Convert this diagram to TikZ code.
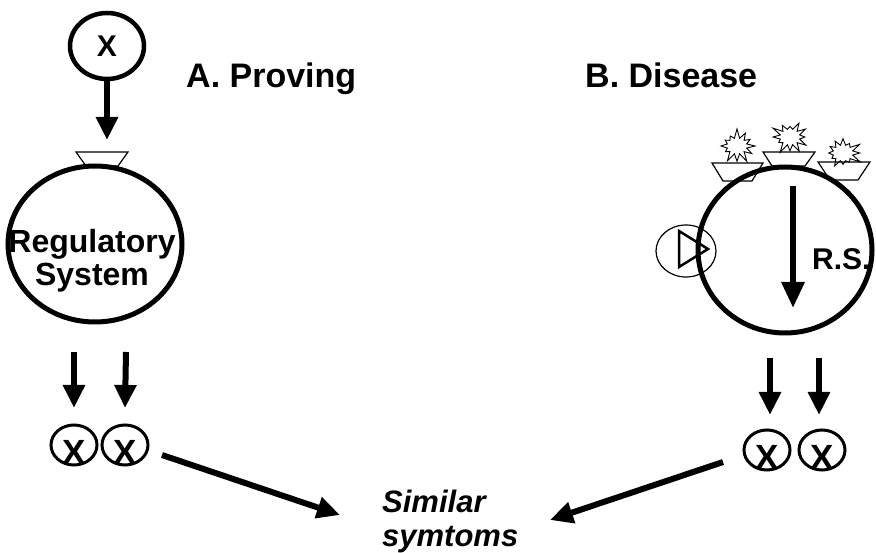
\documentclass[tikz,border=0pt]{standalone}
\usepackage{fontspec}
\setmainfont{Liberation Sans}
\usetikzlibrary{arrows.meta,shapes.geometric,shapes.symbols}
\tikzset{
  ring/.style={draw, ellipse, line width=5pt, inner sep=0pt},
  xring/.style={draw, ellipse, line width=3pt, inner sep=0pt, minimum width=46pt, minimum height=40pt},
  fat/.style={line width=6pt, -{Triangle[length=23pt,width=21pt]}},
  recep/.style={draw, line width=1.2pt, fill=white, line join=miter},
  title/.style={font=\bfseries\fontsize{34}{38}\selectfont, inner sep=0pt},
  lbl/.style={font=\bfseries\fontsize{32}{35}\selectfont, inner sep=0pt},
  xbig/.style={font=\bfseries\fontsize{35}{36}\selectfont, inner sep=0pt},
  burst/.style={starburst, draw, line width=0.9pt, minimum width=40pt, minimum height=36pt, starburst points=12, starburst point height=10pt, inner sep=0pt},
}
\begin{document}
\begin{tikzpicture}[x=1pt,y=-1pt]
\useasboundingbox (0,0) rectangle (876,553);
\fill[white] (0,0) rectangle (876,553);

% ---------- A. Proving ----------
\node[ring, line width=4.5pt, minimum width=74pt, minimum height=66pt,
      font=\bfseries\fontsize{30}{32}\selectfont] (xtop) at (107,46) {X};
\coordinate (tipA) at (107,140);
\draw[fat] (xtop) -- (tipA);
\draw[recep] (76,152) -- (128,152) -- (118,166) -- (86,166) -- cycle;
\node[ring, minimum width=174pt, minimum height=156pt] (rs1) at (95,244) {};
\node[lbl, align=center] (rstext) at (92,261) {Regulatory\\[-2pt]System};
\node[title, anchor=base west] (ta) at (186,88) {A. Proving};

\coordinate (a1s) at (74,352);
\coordinate (a2s) at (126,352);
\node[xring] (xa) at (74,445) {};
\node[xring] (xb) at (125,445) {};
\node[xbig] (xal) at (74,452) {X};
\node[xbig] (xbl) at (125,452) {X};
\draw[fat] (a1s) -- (xa.north |- 0,408);
\draw[fat] (a2s) -- (xb.north |- 0,408);

% ---------- B. Disease ----------
\node[title, anchor=base west] (tb) at (585,88) {B. Disease};

\draw[recep] (712,163) -- (763,163) -- (752,181) -- (723,181) -- cycle;
\draw[recep] (763,152) -- (815,152) -- (805,166) -- (772,166) -- cycle;
\draw[recep] (818,162) -- (870,162) -- (858,180) -- (830,180) -- cycle;
\node[burst, random starburst=7] (b1) at (737,146) {};
\node[burst, random starburst=23] (b2) at (790,137) {};
\node[burst, random starburst=51] (b3) at (843,153) {};

\node[draw, ellipse, line width=1.2pt, minimum width=60pt, minimum height=52pt, inner sep=0pt] (trc) at (686,251) {};
\node[ring, minimum width=174pt, minimum height=166pt] (rs2) at (785,250) {};
\draw[line width=2.5pt, line join=miter] (679,231) -- (708,249) -- (679,267) -- cycle;
\coordinate (in1) at (793,186);
\coordinate (in2) at (793,308);
\draw[fat, -{Triangle[length=26pt,width=22pt]}] (in1) -- (in2);
\node[font=\bfseries\fontsize{30}{33}\selectfont, inner sep=0pt, anchor=base west] (rsl) at (812,270) {R.S.};

\coordinate (c1s) at (770,358);
\coordinate (c2s) at (819,358);
\node[xring] (xc) at (767,450) {};
\node[xring] (xd) at (822,450) {};
\node[xbig] (xcl) at (767,457) {X};
\node[xbig] (xdl) at (822,457) {X};
\draw[fat] (c1s) -- (c1s |- 0,415);
\draw[fat] (c2s) -- (c2s |- 0,415);

% ---------- Similar symptoms ----------
\node[font=\bfseries\itshape\fontsize{31}{34}\selectfont, inner sep=0pt, anchor=base west] (sim1) at (382,512) {Similar};
\node[font=\bfseries\itshape\fontsize{31}{34}\selectfont, inner sep=0pt, anchor=base west] (sim2) at (382,546) {symtoms};
\coordinate (la0) at (162,455);
\coordinate (la1) at (340,515);
\coordinate (ra0) at (723,462);
\coordinate (ra1) at (550,520);
\draw[fat] (la0) -- (la1);
\draw[fat] (ra0) -- (ra1);
\end{tikzpicture}
\end{document}
